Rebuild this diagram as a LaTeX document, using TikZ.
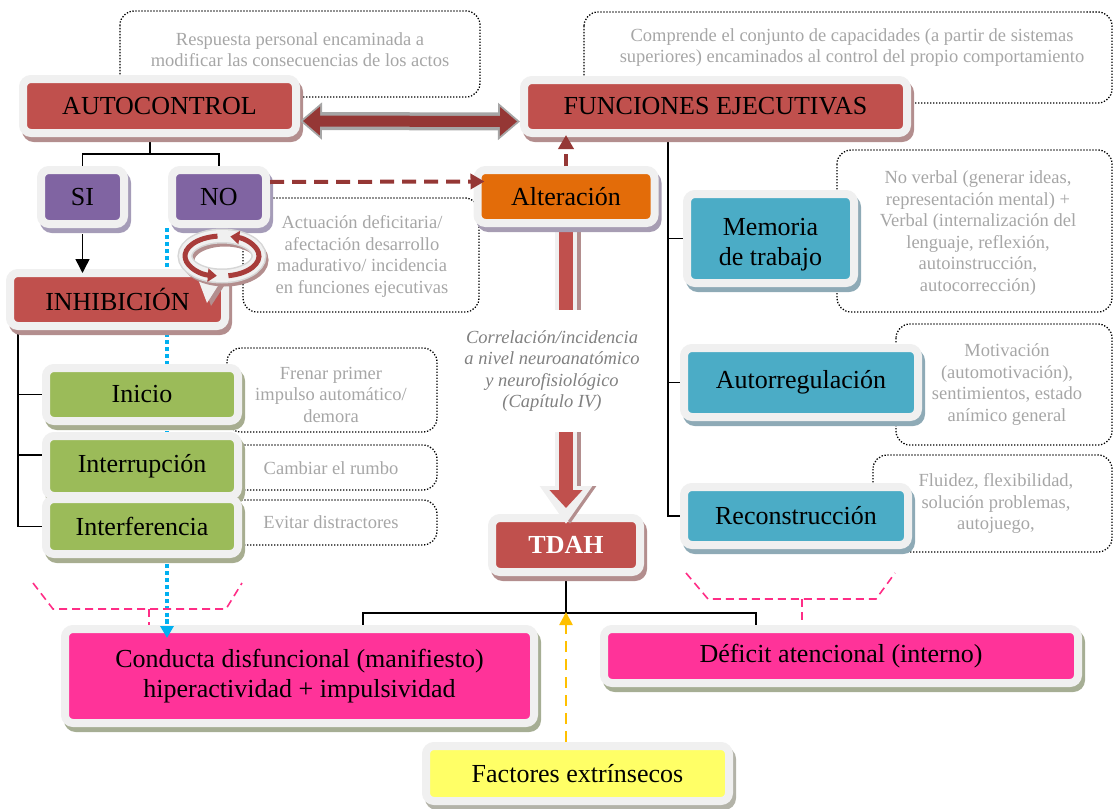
\documentclass[tikz,border=0pt]{standalone}
\usepackage{fontspec}
\setmainfont{Liberation Serif}
\usetikzlibrary{arrows.meta}
\pgfdeclarelayer{bg}
\pgfsetlayers{bg,main}

\definecolor{redfill}{HTML}{C0504D}
\definecolor{redsh}{HTML}{B38E8E}
\definecolor{purfill}{HTML}{8064A2}
\definecolor{pursh}{HTML}{A59CB8}
\definecolor{orafill}{HTML}{E36C09}
\definecolor{orash}{HTML}{A79DB3}
\definecolor{grnfill}{HTML}{9BBB59}
\definecolor{grnsh}{HTML}{A7AD90}
\definecolor{blufill}{HTML}{4BACC6}
\definecolor{blush}{HTML}{8EAAB6}
\definecolor{pnkfill}{HTML}{FF3399}
\definecolor{pnksh}{HTML}{A6AE94}
\definecolor{ylwfill}{HTML}{FFFF66}
\definecolor{ylwsh}{HTML}{B3B3A8}
\definecolor{rim}{HTML}{F0F0F0}
\definecolor{rimedge}{HTML}{D6D6D6}
\definecolor{darkred}{HTML}{953735}
\definecolor{cycred}{HTML}{A83C3A}
\definecolor{notegray}{HTML}{A6A6A6}
\definecolor{corrgray}{HTML}{808080}
\definecolor{dotblue}{HTML}{00B0F0}
\definecolor{dashpink}{HTML}{FF2D86}
\definecolor{amber}{HTML}{FFC000}
\definecolor{arrowgray}{HTML}{A6A6A6}

\newcommand\boxfont{\fontsize{26}{30}\selectfont}
\newcommand\notefont{\fontsize{18.5}{21.5}\selectfont}

\begin{document}
\begin{tikzpicture}[x=1pt,y=-1pt,
  box/.style 2 args={draw=rim, line width=8pt, rounded corners=8pt, inner sep=0pt,
    align=center, font=\boxfont, fill=#1,
    preaction={draw=#2, fill=#2, line width=8pt, transform canvas={xshift=3pt,yshift=-5pt}}},
  note/.style={draw=black, line width=1.3pt, dash pattern=on 1.3pt off 1.7pt, rounded corners=14pt},
  notetext/.style={align=center, font=\notefont, text=notegray, inner sep=0pt},
  tree/.style={draw=black, line width=1.5pt},
  rdash/.style={draw=darkred, line width=4pt, dash pattern=on 14pt off 8pt, -{Triangle[length=14pt,width=15pt]}},
  pdash/.style={draw=dashpink, line width=1.6pt, dash pattern=on 8pt off 5pt},
]
\useasboundingbox (0,0) rectangle (1115,808);
\clip (0,0) rectangle (1115,808);

% ---------- boxes ----------
\node[box={redfill}{redsh}, minimum width=273pt, minimum height=54pt] (auto) at (159.5,106) {AUTOCONTROL};
\node[box={redfill}{redsh}, minimum width=383pt, minimum height=53pt] (func) at (715.5,106.5) {FUNCIONES EJECUTIVAS};
\node[box={purfill}{pursh}, minimum width=83pt, minimum height=54pt] (si) at (82.5,197) {SI};
\node[box={purfill}{pursh}, minimum width=94pt, minimum height=54pt] (no) at (219,197) {NO};
\node[box={orafill}{orash}, minimum width=177pt, minimum height=53pt] (alt) at (566,196.5) {Alteración};
\node[box={redfill}{redsh}, minimum width=215pt, minimum height=53pt] (inhib) at (117.5,299.5) {INHIBICIÓN};
\node[box={grnfill}{grnsh}, minimum width=192pt, minimum height=53pt] (ini) at (142,394.5) {Inicio};
\node[box={grnfill}{grnsh}, minimum width=192pt, minimum height=60pt] (intr) at (142,466) {Interrupción};
\node[box={grnfill}{grnsh}, minimum width=192pt, minimum height=55pt] (intf) at (142,526.5) {Interferencia};
\node[box={redfill}{redsh}, minimum width=148pt, minimum height=54pt, font=\boxfont\bfseries, text=white] (tdah) at (566,545) {TDAH};
\node[box={blufill}{blush}, minimum width=167pt, minimum height=89pt] (mem) at (770.5,238.5) {\rule{0pt}{30pt}Memoria\\de trabajo};
\node[box={blufill}{blush}, minimum width=234pt, minimum height=69pt] (aut) at (801,382.5) {Autorregulación};
\node[box={blufill}{blush}, minimum width=224pt, minimum height=58pt] (rec) at (796,516) {Reconstrucción};
\node[box={pnkfill}{pnksh}, minimum width=469pt, minimum height=94pt] (cond) at (299.5,676) {Conducta disfuncional (manifiesto)\\hiperactividad + impulsividad};
\node[box={pnkfill}{pnksh}, minimum width=474pt, minimum height=54pt] (def) at (841,656) {Déficit atencional (interno)};
\node[box={ylwfill}{ylwsh}, minimum width=303pt, minimum height=55pt] (fact) at (577.5,773.5) {Factores extrínsecos};

\node[align=center, font=\notefont\itshape, text=corrgray, inner sep=0pt, minimum height=122pt] (corr) at (552,371)
  {Correlación/incidencia\\a nivel neuroanatómico\\y neurofisiológico\\(Capítulo IV)};

\coordinate (bluetop) at ([xshift=-1pt]no.south west);

% ---------- background: notes, tree lines ----------
\begin{pgfonlayer}{bg}
  \draw[note] (120,11) rectangle (480,97);
  \draw[note] (584,12) rectangle (1112,103);
  \draw[note] (243,198) rectangle (479,312);
  \draw[note] (837,150) rectangle (1112,312);
  \draw[note] (896,324) rectangle (1112,445);
  \draw[note] (873,455) rectangle (1112,552);
  \draw[note] (227,348) rectangle (437,432);
  \draw[note] (227,445) rectangle (437,490);
  \draw[note] (227,500) rectangle (437,545);

  \node[notetext] (t1) at (300,49.5) {Respuesta personal encaminada a\\modificar las consecuencias de los actos};
  \node[notetext] (t2) at (852,47.5) {Comprende el conjunto de capacidades (a partir de sistemas\\superiores) encaminados al control del propio comportamiento};
  \node[notetext] (t3) at (362,256.5) {Actuación deficitaria/\\afectación desarrollo\\madurativo/ incidencia\\en funciones ejecutivas};
  \node[notetext] (t4) at (978,233) {No verbal (generar ideas,\\representación mental) +\\Verbal (internalización del\\lenguaje, reflexión,\\autoinstrucción,\\autocorrección)};
  \node[notetext] (t5) at (1007,384.5) {Motivación\\(automotivación),\\sentimientos, estado\\anímico general};
  \node[notetext] (t6) at (996,503.5) {Fluidez, flexibilidad,\\solución problemas,\\autojuego,};
  \node[notetext] (t7) at (331,394.5) {Frenar primer\\impulso automático/\\demora};
  \node[notetext] (t8) at (331,468) {Cambiar el rumbo};
  \node[notetext] (t9) at (331,522) {Evitar distractores};

  % autocontrol branches
  \draw[tree] ([xshift=-9.5pt]auto.south) -- ++(0,17) coordinate (aj);
  \draw[tree] (si.north) |- (aj) -| (no.north);
  % inhibition branches
  \draw[tree] ([xshift=12pt]inhib.south west) |- (ini.west);
  \draw[tree] ([xshift=12pt]inhib.south west) |- ([yshift=11pt]intr.west);
  \draw[tree] ([xshift=12pt]inhib.south west) |- (intf.west);
  % executive functions branches
  \draw[tree] ([xshift=-47.5pt]func.south) |- (mem.west);
  \draw[tree] ([xshift=-47.5pt]func.south) |- (aut.west);
  \draw[tree] ([xshift=-47.5pt]func.south) |- (rec.west);
  % TDAH branches
  \draw[tree] (tdah.south) -- ++(0,37) coordinate (bj);
  \draw[tree] ([xshift=63.5pt]cond.north) |- (bj) -| ([xshift=-85pt]def.north);

  % dotted blue link
  \draw[draw=dotblue, line width=3.5pt, dash pattern=on 3.5pt off 3.5pt] (bluetop) -- (bluetop |- cond.north);

  % pink brackets
  \draw[pdash] (33,583) -- (53,609) -- (226,609) -- (242,583);
  \draw[pdash] (149,609) -- (149,630);
  \draw[pdash] (686,573) -- (708,599) -- (876,599) -- (895,573);
  \draw[pdash] (802,599) -- (802,630);

  % upper shaft of the hollow arrow
  \draw[line width=22pt, draw=redsh, transform canvas={xshift=4pt}] (alt.south) -- (alt.south |- corr.north);
  \draw[line width=22pt, draw=rim] (alt.south) -- (alt.south |- corr.north);
  \draw[line width=14pt, draw=redfill] (alt.south) -- (alt.south |- corr.north);
\end{pgfonlayer}

% ---------- foreground connectors ----------
% double arrow between autocontrol and executive functions
\draw[line width=18pt, draw=arrowgray, {Triangle[length=22pt,width=36pt]}-{Triangle[length=22pt,width=36pt]}]
  ([yshift=-15pt]auto.east) -- ([yshift=-15pt]func.west);
\draw[line width=11pt, draw=darkred, shorten <=3pt, shorten >=3pt, {Triangle[length=17pt,width=28pt]}-{Triangle[length=17pt,width=28pt]}]
  ([yshift=-15pt]auto.east) -- ([yshift=-15pt]func.west);

% SI -> INHIBICION
\draw[tree, -{Triangle[length=14pt,width=14pt]}, shorten <=6pt, shorten >=-4pt] (si.south) -- (si.south |- inhib.north);

% dashed red arrows
\draw[rdash, shorten >=-11pt] ([yshift=15pt]no.east) -- ([yshift=15pt]alt.west);
\draw[rdash, dash pattern=on 12pt off 8pt, shorten >=-2pt] (alt.north) -- (alt.north |- func.south);

% blue arrow tip into the dysfunctional conduct box
\draw[draw=dotblue, line width=3.5pt, dash pattern=on 3.5pt off 3.5pt, -{Triangle[length=12pt,width=13pt]}]
  ([yshift=6pt]bluetop |- cond.north) -- ([yshift=-13pt]bluetop |- cond.north);

% lower part of the hollow arrow, down to TDAH
\draw[line width=22pt, draw=redsh, transform canvas={xshift=4pt}, -{Triangle[length=38pt,width=50pt]}]
  (alt.south |- corr.south) -- ([yshift=-10pt]tdah.north);
\draw[line width=22pt, draw=rim, -{Triangle[length=38pt,width=50pt]}]
  (alt.south |- corr.south) -- ([yshift=-10pt]tdah.north);
\draw[line width=14pt, draw=redfill, shorten >=16pt, -{Triangle[length=18pt,width=32pt]}]
  (alt.south |- corr.south) -- ([yshift=-10pt]tdah.north);

% extrinsic factors
\draw[draw=amber, line width=2.5pt, dash pattern=on 11pt off 7pt, shorten >=-1pt, -{Triangle[length=13pt,width=13pt]}]
  (bj |- fact.north) -- (bj);

% cycle symbol: a light ring with two curved red arrows
\fill[redsh] (203,281) -- (226,283) -- (211,306) -- cycle;
\fill[rim] (198,279) -- (221,281) -- (207,303) -- cycle;
\begin{scope}[shift={(222,256)}, yscale=-1]
  \draw[line width=13pt, draw=redsh] (3,-4) ellipse [x radius=37, y radius=20];
  \draw[line width=15pt, draw=rimedge] (0,0) ellipse [x radius=37, y radius=20];
  \draw[line width=12pt, draw=rim] (0,0) ellipse [x radius=37, y radius=20];
  \draw[line width=5pt, draw=cycred, -{Triangle[length=9pt,width=13pt]}]
    (280:37 and 20) arc[start angle=280, end angle=437, x radius=37, y radius=20];
  \draw[line width=5pt, draw=cycred, -{Triangle[length=9pt,width=13pt]}]
    (97:37 and 20) arc[start angle=97, end angle=262, x radius=37, y radius=20];
\end{scope}
\end{tikzpicture}
\end{document}
